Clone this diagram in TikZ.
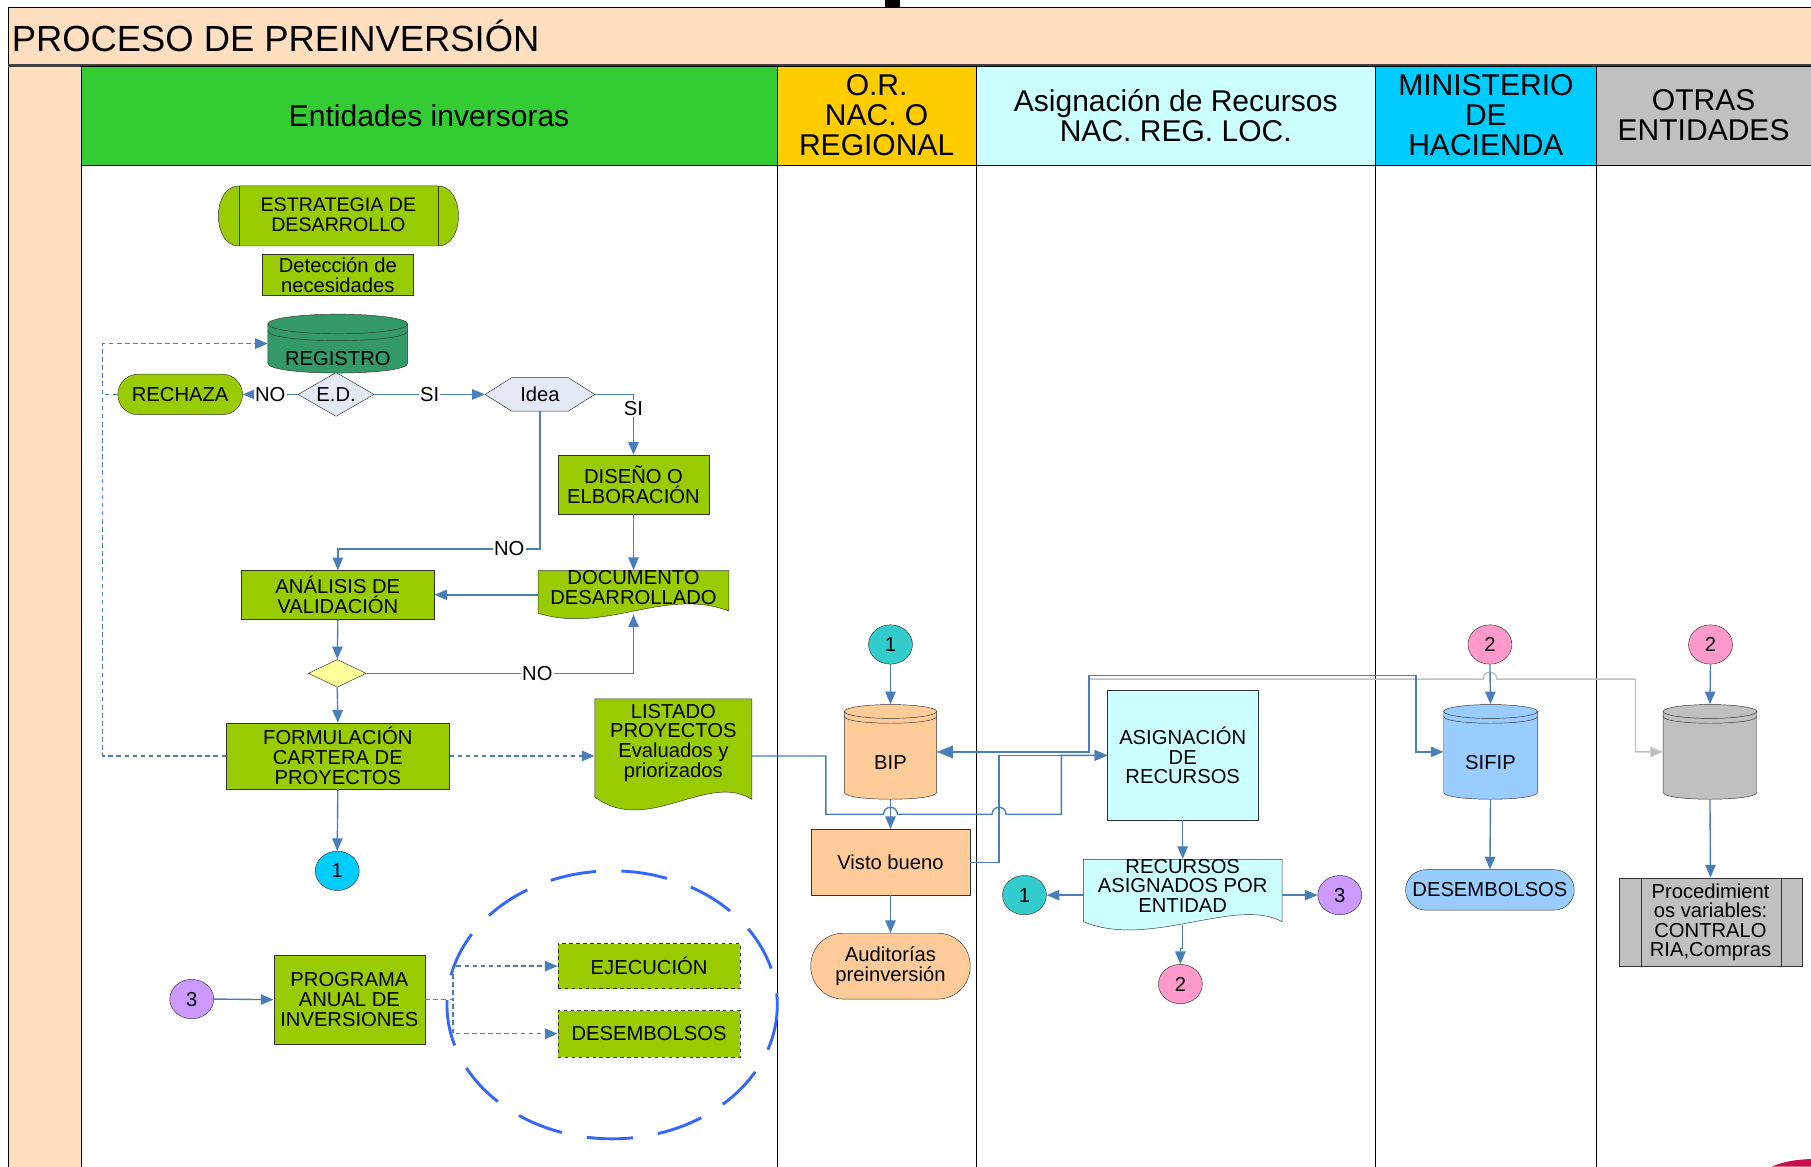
\documentclass[tikz,border=0pt]{standalone}
\usepackage{fontspec}
\setmainfont{Liberation Sans}
\usetikzlibrary{positioning, calc, arrows.meta, shapes.geometric}

\definecolor{peach}{HTML}{FFDFC0}
\definecolor{hdgreen}{HTML}{33CC33}
\definecolor{hdgold}{HTML}{FFCC00}
\definecolor{hdcyan}{HTML}{CCFFFF}
\definecolor{hdsky}{HTML}{00CCFF}
\definecolor{hdgray}{HTML}{C0C0C0}
\definecolor{lime}{HTML}{99CC00}
\definecolor{regis}{HTML}{339966}
\definecolor{lav}{HTML}{E3EAF5}
\definecolor{lemon}{HTML}{FFFF99}
\definecolor{tanb}{HTML}{FFCC99}
\definecolor{skyb}{HTML}{99CCFF}
\definecolor{pinkc}{HTML}{FF99CC}
\definecolor{violc}{HTML}{CC99FF}
\definecolor{tealc}{HTML}{33CCCC}
\definecolor{lineb}{HTML}{4A7EBB}
\definecolor{ringb}{HTML}{3366FF}
\definecolor{crims}{HTML}{C8104A}

% drum: centre x, top ellipse y, bottom y, half width, y radius, fill
\newcommand{\drum}[6]{%
  \filldraw[fill=#6, draw=black!80] (#1-#4,#2) -- (#1-#4,#3)
    .. controls (#1-#4,#3+1.33*#5) and (#1+#4,#3+1.33*#5) .. (#1+#4,#3) -- (#1+#4,#2) -- cycle;
  \filldraw[fill=#6, draw=black!80] (#1,#2) ellipse [x radius=#4, y radius=#5];
  \draw[black!80] (#1-#4,#2+0.7*#5) .. controls (#1-#4,#2+2.03*#5) and (#1+#4,#2+2.03*#5) .. (#1+#4,#2+0.7*#5);}

\begin{document}
\begin{tikzpicture}[x=1pt, y=-1pt,
    every node/.style={font=\fontsize{17.5}{17}\selectfont, align=center, inner sep=0pt},
    hdr/.style={draw=black, minimum height=86, font=\fontsize{26}{26}\selectfont},
    proc/.style={rectangle, draw=black!80, fill=lime},
    term/.style={rectangle, rounded corners=17.5pt, draw=black!80, fill=lime},
    cnum/.style={ellipse, draw=black!80, minimum width=38, minimum height=34},
    lbl/.style={fill=white, inner sep=1pt},
    conn/.style={draw=lineb, line width=1.2pt, -{Triangle[length=11pt,width=9pt]}},
    dconn/.style={conn, dash pattern=on 4pt off 3pt},
    gconn/.style={draw=black!25, line width=1.2pt, -{Triangle[length=11pt,width=9pt]}}]
\useasboundingbox (0,0) rectangle (1568,1010);

% frame
\fill[peach] (7,6) rectangle (1568,57);
\fill[peach] (7,57) rectangle (70,1010);
\draw (7,1010) -- (7,6) -- (1568,6);
\draw[line width=2.5pt, black!75] (7,57) -- (1568,57);
\fill (766,0) rectangle (779,6);
\node[anchor=west, font=\fontsize{31.5}{31}\selectfont] (title) at (10,31) {PROCESO DE PREINVERSIÓN};

% lanes
\node[hdr, fill=hdgreen, minimum width=603] (lane1) at (371.5,100) {Entidades inversoras};
\node[hdr, fill=hdgold, minimum width=172] (lane2) at (759,100) {O.R.\\NAC. O\\REGIONAL};
\node[hdr, fill=hdcyan, minimum width=346] (lane3) at (1018,100) {Asignación de Recursos\\NAC. REG. LOC.};
\node[hdr, fill=hdsky, minimum width=191] (lane4) at (1286.5,100) {MINISTERIO\\DE\\HACIENDA};
\node[hdr, fill=hdgray, minimum width=186] (lane5) at (1475,100) {OTRAS\\ENTIDADES};
\foreach \x in {70,673,845,1191,1382}
  \draw (\x,143) -- (\x,1010);

% entidades inversoras
\filldraw[fill=lime, draw=black!80] (207,161) -- (379,161) .. controls (403,161) and (403,213) .. (379,213)
  -- (207,213) .. controls (183,213) and (183,161) .. (207,161) -- cycle;
\draw[black!80] (207,161) -- (207,213) (379,161) -- (379,213);
\node[font=\fontsize{17}{17}\selectfont, minimum width=172, minimum height=52] (estr) at (293,186) {ESTRATEGIA DE\\DESARROLLO};
\node[proc, minimum width=131, minimum height=36] (detec) at (292.5,238) {Detección de\\necesidades};
\drum{292.5}{280.5}{314.5}{60.5}{8.5}{regis}
\node[minimum width=121, minimum height=51, label={[yshift=-13pt]center:REGISTRO}] (reg) at (292.5,297.5) {};
\node[term, minimum width=108, minimum height=35] (rech) at (156,341.5) {RECHAZA};
\node[diamond, aspect=1.74, draw=black!80, fill=lav, minimum width=66, minimum height=38] (ed) at (291,341.5) {E.D.};
\filldraw[fill=lav, draw=black!80] (420,341.5) -- (443,327) -- (492,327) -- (515,341.5) -- (492,356) -- (443,356) -- cycle;
\node[minimum width=95, minimum height=29] (idea) at (467.5,341.5) {Idea};
\node[proc, minimum width=131, minimum height=51] (dis) at (548.5,419.5) {DISEÑO O\\ELBORACIÓN};
\filldraw[fill=lime, draw=black!80] (466,494) -- (631,494) -- (631,529) .. controls (575,508) and (525,549) .. (466,531) -- cycle;
\node[minimum width=165, minimum height=29] (doc) at (548.5,508.5) {DOCUMENTO\\DESARROLLADO};
\coordinate (docb) at (548.5,532);
\node[proc, minimum width=167, minimum height=42] (anal) at (292.5,515) {ANÁLISIS DE\\VALIDACIÓN};
\node[diamond, aspect=2.08, draw=black!80, fill=lemon, minimum width=50, minimum height=24] (dec) at (292,583) {};
\node[proc, minimum width=193, minimum height=57] (form) at (292.5,654.5) {FORMULACIÓN\\CARTERA DE\\PROYECTOS};
\filldraw[fill=lime, draw=black!80] (515,605) -- (651,605) -- (651,692) .. controls (612,668) and (560,724) .. (515,690) -- cycle;
\node[minimum width=136, minimum height=76] (list) at (583,643) {LISTADO\\PROYECTOS\\Evaluados y\\priorizados};
\node[cnum, fill=hdsky] (c1a) at (292,754) {1};
\node[cnum, fill=violc] (c3a) at (166,865) {3};
\node[proc, minimum width=131, minimum height=77] (prog) at (302.5,865.5) {PROGRAMA\\ANUAL DE\\INVERSIONES};
\draw[ringb, line width=2.5pt, dash pattern=on 40pt off 22pt] (530,870) ellipse [x radius=143, y radius=116];
\node[proc, dashed, minimum width=158, minimum height=39] (ejec) at (562,836.5) {EJECUCIÓN};
\node[proc, dashed, minimum width=158, minimum height=40] (desl) at (562,895) {DESEMBOLSOS};
\coordinate (loop) at (89,341.5);

% o.r. nac. o regional
\node[cnum, fill=tealc] (c1b) at (771,558) {1};
\drum{771}{616}{686}{40}{6}{tanb}
\node[minimum width=80, minimum height=82, label={[yshift=-9pt]center:BIP}] (bip) at (771,651) {};
\node[proc, fill=tanb, minimum width=138, minimum height=57] (visto) at (771,746.5) {Visto bueno};
\node[term, fill=tanb, rounded corners=28pt, minimum width=138, minimum height=57] (audit) at (771,836.5) {Auditorías\\preinversión};

% asignacion de recursos
\node[proc, fill=hdcyan, minimum width=130, minimum height=112] (asig) at (1024,654) {ASIGNACIÓN\\DE\\RECURSOS};
\filldraw[fill=hdcyan, draw=black!80] (938,744) -- (1110,744) -- (1110,798) .. controls (1070,776) and (995,822) .. (938,798) -- cycle;
\node[minimum width=172, minimum height=46] (recu) at (1024,767) {RECURSOS\\ASIGNADOS POR\\ENTIDAD};
\coordinate (recb) at (1024,801);
\node[cnum, fill=tealc] (c1c) at (887,775) {1};
\node[cnum, fill=violc] (c3b) at (1160,775) {3};
\node[cnum, fill=pinkc] (c2a) at (1022,852) {2};

% ministerio de hacienda
\node[cnum, fill=pinkc] (c2b) at (1290,558) {2};
\drum{1290.5}{616}{686}{40.5}{6}{skyb}
\node[minimum width=81, minimum height=82, label={[yshift=-9pt]center:SIFIP}] (sifip) at (1290.5,651) {};
\node[term, fill=skyb, minimum width=146, minimum height=35] (desr) at (1290,770.5) {DESEMBOLSOS};

% otras entidades
\node[cnum, fill=pinkc] (c2c) at (1481,558) {2};
\drum{1480.5}{616}{686}{40.5}{6}{hdgray}
\node[minimum width=81, minimum height=82] (gcyl) at (1480.5,651) {};
\node[proc, fill=hdgray, minimum width=158, minimum height=77] (proced) at (1481,798.5) {Procedimient\\os variables:\\CONTRALO\\RIA,Compras};
\draw[black!80] (1421,760) -- (1421,837) (1542,760) -- (1542,837);

% connectors
\draw[conn] (ed.west) -- node[lbl]{NO} (rech.east);
\draw[conn] (ed.east) -- node[lbl]{SI} (idea.west);
\draw[conn] (idea.east) -| node[lbl, pos=0.615]{SI} (dis.north);
\draw[conn] (idea.south) -- ++(0,119) -| node[lbl, pos=0.076]{NO} (anal.north);
\draw[conn] (dis.south) -- (doc.north);
\draw[conn] (doc.west |- anal.east) -- (anal.east);
\draw[conn] (anal.south) -- (dec.north);
\draw[conn] (dec.east) -| node[lbl, pos=0.32]{NO} (docb);
\draw[conn] (dec.south) -- (form.north);
\draw[conn] (form.south) -- (c1a.north);
\draw[dconn] (form.east) -- (form.east -| list.west);
\draw[dconn] (form.west) -| (loop) |- (reg.west);
\draw[dconn, -] (rech.west) -- (loop);
\draw[conn] (c3a.east) -- (prog.west);
\draw[dconn] (prog.east) -- ++(24,0) |- (ejec.west);
\draw[dconn] (prog.east) -- ++(24,0) |- (desl.west);

\draw[conn] (c1b.south) -- (bip.north);
\draw[conn] (bip.south) -- (visto.north);
\draw[conn] (visto.south) -- (audit.north);
\draw[conn] (list.east |- form.east) -- (715,654.5) -- (715,705) -- (765,705) .. controls (765,697) and (777,697) .. (777,705)
  -- (859,705) .. controls (859,697) and (871,697) .. (871,705) -- (919,705) |- (asig.west);
\draw[conn] (visto.east) -- (865,746.5) |- (asig.west);
\draw[gconn] (bip.east) -| (943,588) -- (1284,588) .. controls (1284,580) and (1296,580) .. (1296,588)
  -- (1416,588) |- (gcyl.west);
\draw[conn, {Triangle[length=14pt,width=11pt]}-{Triangle[length=11pt,width=9pt]}] (bip.east) -| (943,585) -| (1226,651) -- (sifip.west);
\draw[conn] (asig.south) -- (recu.north);
\draw[conn] (recu.west |- c1c) -- (c1c.east);
\draw[conn] (recu.east |- c3b) -- (c3b.west);
\draw[conn] (recb) -- ++(0,20) -| (c2a.north);
\draw[conn] (c2b.south) -- (sifip.north);
\draw[conn] (sifip.south) -- (desr.north);
\draw[conn] (c2c.south) -- (gcyl.north);
\draw[conn] (gcyl.south) -- (proced.north);

\fill[crims] (1534,1010) .. controls (1545,1005.5) and (1555,1004) .. (1568,1003.5) -- (1568,1010) -- cycle;
\end{tikzpicture}
\end{document}
